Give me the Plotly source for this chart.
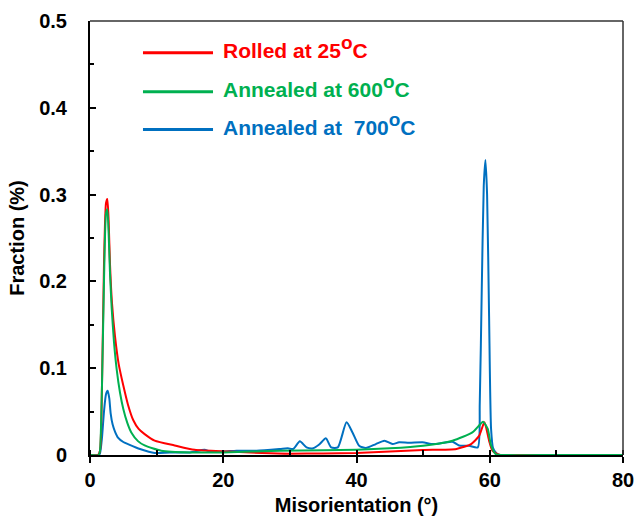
import plotly.graph_objects as go

# ---- data ----
SUP = "<sup><span style='font-size:19px'>o</span></sup>"
red_name = "Rolled at 25" + SUP + "C"
green_name = "Annealed at 600" + SUP + "C"
blue_name = "Annealed at \u00a0700" + SUP + "C"

red_x = [0, 1.2, 1.5, 1.8, 2.1, 2.4, 2.6, 2.8, 3.0, 3.3, 3.75, 4.3, 5.0, 5.7, 6.5, 7.3, 8.2,
         9.7, 12.7, 15.7, 20.7, 25.8, 30, 35, 40, 45, 50, 55, 57.2, 58.4, 59.2, 59.9, 60.4,
         61.4, 62, 70, 80]
red_y = [0, 0, 0.005, 0.08, 0.22, 0.29, 0.295, 0.27, 0.22, 0.175, 0.137, 0.105, 0.080, 0.058,
         0.040, 0.030, 0.024, 0.0165, 0.011, 0.006, 0.004, 0.0023, 0.0015, 0.0018, 0.0023,
         0.004, 0.0057, 0.007, 0.0126, 0.022, 0.0376, 0.0165, 0.005, 0.0003, 0, 0, 0]

green_x = [0, 1.3, 1.5, 1.8, 2.1, 2.4, 2.6, 2.8, 3.0, 3.25, 3.6, 4.0, 4.5, 5.0, 5.6, 6.2, 7.2,
           8.2, 10.7, 15, 20, 28.5, 35, 40, 45, 50, 54.4, 57.4, 58.4, 59.0, 59.7, 60.2, 60.9,
           62, 70, 80]
green_y = [0, 0, 0.005, 0.08, 0.20, 0.278, 0.283, 0.255, 0.21, 0.17, 0.13, 0.099, 0.072, 0.053,
           0.037, 0.026, 0.016, 0.011, 0.005, 0.003, 0.003, 0.005, 0.0055, 0.006, 0.0077,
           0.0107, 0.0165, 0.026, 0.034, 0.0383, 0.030, 0.011, 0.001, 0, 0, 0]

blue_x = [0, 1.3, 1.5, 1.8, 2.1, 2.4, 2.65, 2.9, 3.1, 3.4, 3.75, 4.2, 5.0, 5.7, 7.5, 9.7, 12,
          15, 17.2, 18, 20, 22, 25, 28.5, 29.7, 30.5, 31.5, 32.5, 33.5, 34.4, 35.4, 36.2, 37.2,
          38.5, 39.4, 40.4, 41.4, 42.9, 44.2, 45.4, 46.4, 47.9, 49.9, 51.5, 53, 54.4, 55.4,
          56.9, 58.2, 58.5, 58.8, 59.1, 59.35, 59.6, 59.9, 60.2, 60.5, 61, 61.5, 70, 80]
blue_y = [0, 0, 0.002, 0.02, 0.05, 0.07, 0.074, 0.065, 0.048, 0.035, 0.027, 0.020, 0.015,
          0.0126, 0.0069, 0.0023, 0.003, 0.003, 0.006, 0.004, 0.004, 0.005, 0.005, 0.0069,
          0.0077, 0.0069, 0.0157, 0.0088, 0.0077, 0.012, 0.0192, 0.0088, 0.0088, 0.0376, 0.026,
          0.0107, 0.008, 0.0126, 0.0165, 0.0126, 0.0146, 0.014, 0.0146, 0.0126, 0.014, 0.0153,
          0.011, 0.0107, 0.0088, 0.06, 0.19, 0.31, 0.34, 0.30, 0.16, 0.03, 0.008, 0.002, 0, 0, 0]

x_ticks = [0, 20, 40, 60, 80]
y_ticks = [0, 0.1, 0.2, 0.3, 0.4, 0.5]
y_ticklabels = ["0", "0.1", "0.2", "0.3", "0.4", "0.5"]

RED = "#FF0000"
GREEN = "#00B050"
BLUE = "#0070C0"
FONT = "Liberation Sans"

fig = go.Figure()
line_common = dict(width=2, shape="spline", smoothing=0.6)
fig.add_trace(go.Scatter(x=blue_x, y=blue_y, mode="lines", name=blue_name,
                         line=dict(color=BLUE, **line_common)))
fig.add_trace(go.Scatter(x=red_x, y=red_y, mode="lines", name=red_name,
                         line=dict(color=RED, **line_common)))
fig.add_trace(go.Scatter(x=green_x, y=green_y, mode="lines", name=green_name,
                         line=dict(color=GREEN, **line_common)))

# legend drawn manually (line sample + coloured text)
legend_rows = [(red_name, RED, 0.927), (green_name, GREEN, 0.837), (blue_name, BLUE, 0.750)]
for name, col, yy in legend_rows:
    fig.add_shape(type="line", xref="paper", yref="paper", x0=0.0994, x1=0.2308, y0=yy, y1=yy,
                  line=dict(color=col, width=3))
    fig.add_annotation(xref="paper", yref="paper", x=0.245, y=yy + 0.013, xanchor="left",
                       yanchor="middle", text=name, showarrow=False,
                       font=dict(family=FONT, size=21, color=col, weight="bold"))

# top and right frame lines (thin grey)
fig.add_shape(type="line", xref="paper", yref="paper", x0=0, x1=1, y0=1, y1=1,
              line=dict(color="#333333", width=1.5))
fig.add_shape(type="line", xref="paper", yref="paper", x0=1, x1=1, y0=0, y1=1,
              line=dict(color="#333333", width=1.5))

fig.update_layout(
    width=635, height=517,
    margin=dict(l=90, r=12, t=21, b=62, autoexpand=False),
    plot_bgcolor="white", paper_bgcolor="white",
    showlegend=False,
    font=dict(family=FONT, size=19, color="black"),
)
fig.update_xaxes(
    range=[0, 80], tickvals=x_ticks, ticktext=[str(v) for v in x_ticks],
    automargin=False, ticklabeloverflow="allow",
    showgrid=False, zeroline=False, showline=True, linecolor="black", linewidth=2,
    ticks="outside", ticklen=6, tickwidth=2, tickcolor="black",
    minor=dict(ticks="inside", dtick=10, ticklen=5, tickwidth=1.5, tickcolor="black", showgrid=False),
    tickfont=dict(family=FONT, size=20, color="black", weight="bold"),
    title=dict(text="Misorientation (°)", standoff=8,
               font=dict(family=FONT, size=20, color="black", weight="bold")),
)
fig.update_yaxes(
    range=[0, 0.5], tickvals=y_ticks, ticktext=y_ticklabels,
    automargin=False, ticklabeloverflow="allow",
    showgrid=False, zeroline=False, showline=True, linecolor="black", linewidth=2,
    ticks="inside", ticklen=6, tickwidth=2, tickcolor="black",
    minor=dict(ticks="inside", dtick=0.05, ticklen=4, tickwidth=1.5, tickcolor="black", showgrid=False),
    ticklabelstandoff=17,
    tickfont=dict(family=FONT, size=20, color="black", weight="bold"),
    title=dict(text="Fraction (%)", standoff=9,
               font=dict(family=FONT, size=20, color="black", weight="bold")),
)

fig.write_html("out.html", config={"displayModeBar": False},
               post_script="document.body.style.margin='0';document.body.style.overflow='hidden';")
